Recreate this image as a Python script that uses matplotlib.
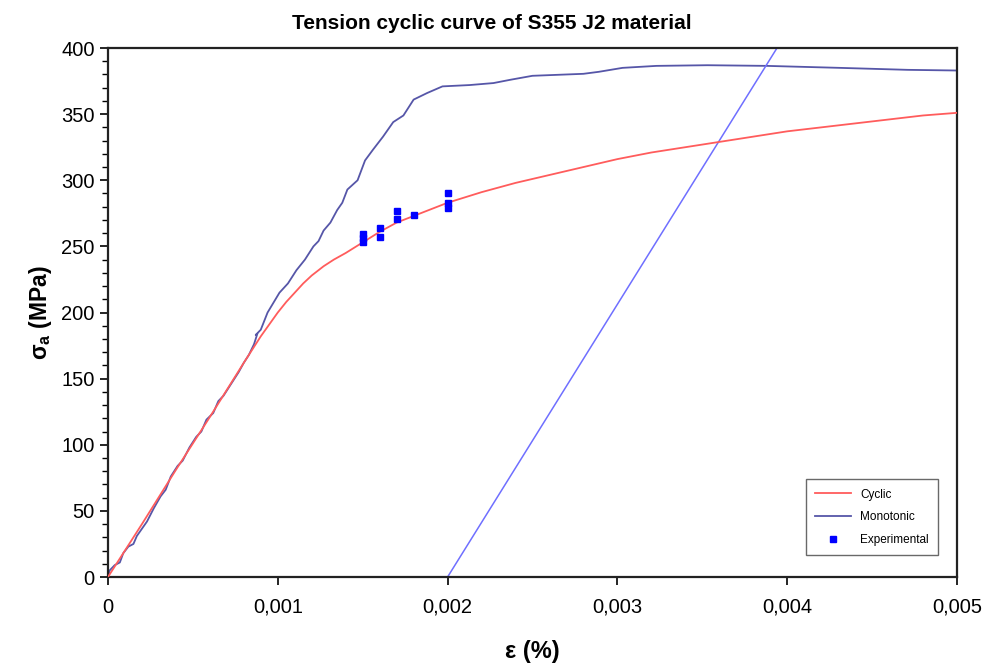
import numpy as np
import matplotlib.pyplot as plt
from matplotlib.ticker import MultipleLocator

plt.rcParams['font.family'] = ['Liberation Sans', 'DejaVu Sans']
plt.rcParams['mathtext.fontset'] = 'custom'
plt.rcParams['mathtext.rm'] = 'Liberation Sans'
plt.rcParams['mathtext.bf'] = 'Liberation Sans:bold'

# cyclic curve (strain, stress MPa)
cyc_strain = [0, 0.0002, 0.0004, 0.0006, 0.0008, 0.00085, 0.0009, 0.00095,
              0.001, 0.00105, 0.0011, 0.00115, 0.0012, 0.00127, 0.00133,
              0.0014, 0.0015, 0.0016, 0.0017, 0.0018, 0.0019, 0.002, 0.0021,
              0.0022, 0.0023, 0.0024, 0.0025, 0.0026, 0.0027, 0.0028, 0.0029,
              0.003, 0.0032, 0.0034, 0.0036, 0.0038, 0.004, 0.0042, 0.0044,
              0.0046, 0.0048, 0.005]
cyc_stress = [0, 40, 81, 121, 162, 172, 182, 191, 200, 208, 215, 222, 228,
              235, 240, 245, 253, 261, 268, 273, 278, 283, 287, 291, 294.5, 298,
              301, 304, 307, 310, 313, 316, 321, 325, 329, 333, 337, 340, 343,
              346, 349, 351]

# monotonic curve
mono_strain = [0, 0.00001, 0.00004, 0.00007, 0.00009, 0.00012, 0.00015, 0.00017,
               0.00023, 0.00027, 0.00031, 0.00034, 0.00037, 0.00041, 0.00044,
               0.00048, 0.00052, 0.00055, 0.00058, 0.00062, 0.00065, 0.00068,
               0.00071, 0.00074, 0.00077, 0.0008, 0.00083, 0.00086, 0.00088,
               0.00087, 0.0009, 0.00094, 0.00101, 0.00106, 0.00111, 0.00116,
               0.00121, 0.00124, 0.00127, 0.00131, 0.00135, 0.00138, 0.00141,
               0.00147, 0.001514, 0.00156, 0.00162, 0.00168, 0.00174, 0.0018,
               0.00188, 0.00197, 0.00213, 0.00227, 0.00237, 0.0025, 0.0028,
               0.00289, 0.00303, 0.00323, 0.00353, 0.00388, 0.00431, 0.00471,
               0.005]
mono_stress = [0, 5, 9, 11, 18, 23, 25, 31, 42, 52, 61, 66, 76, 84, 88, 98,
               106, 110, 119, 124, 133, 137, 143, 149, 155, 162, 168, 176, 184,
               183, 187, 200, 215, 222, 232, 240, 250, 254, 262, 268, 277.5,
               283, 293, 300, 315, 323, 333, 344, 349, 361, 366, 371, 372,
               373.5, 376, 379, 380.5, 382, 385, 386.5, 387, 386.5, 385, 383.5,
               383]

# 0.2 % offset line
offset_strain = [0.002, 0.00394]
offset_stress = [0, 400]

# experimental points
exp_strain = [0.0015, 0.0015, 0.0015, 0.0016, 0.0016, 0.0017, 0.0017, 0.0018,
              0.002, 0.002, 0.002]
exp_stress = [253, 256, 259, 264, 257, 277, 271, 274, 290, 283, 279]

xtick_vals = [0, 0.001, 0.002, 0.003, 0.004, 0.005]
xtick_labels = ['0', '0,001', '0,002', '0,003', '0,004', '0,005']

fig = plt.figure(figsize=(9.95, 6.67), dpi=100)
ax = fig.add_axes([0.1085, 0.1349, 0.8533, 0.7931])

ax.plot(cyc_strain, cyc_stress, color='#ff5c5c', lw=1.3, label='Cyclic', zorder=3)
ax.plot(mono_strain, mono_stress, color='#5656a8', lw=1.3, label='Monotonic', zorder=2)
ax.plot(offset_strain, offset_stress, color='#6f6fff', lw=1.1, zorder=2)
ax.plot(exp_strain, exp_stress, 's', color='#0000ff', ms=4.5, ls='none',
        label='Experimental', zorder=4)

ax.set_xlim(0, 0.005)
ax.set_ylim(0, 400)
ax.set_xticks(xtick_vals)
ax.set_xticklabels(xtick_labels)
ax.yaxis.set_major_locator(MultipleLocator(50))
ax.yaxis.set_minor_locator(MultipleLocator(10))
ax.tick_params(axis='both', which='major', labelsize=14.5, length=6, width=1.2, direction='out')
ax.tick_params(axis='y', which='minor', length=4, width=1)
ax.tick_params(axis='x', pad=9)

for s in ax.spines.values():
    s.set_linewidth(1.6)
    s.set_color('#222222')

ax.set_xlabel('ε (%)', fontsize=17, fontweight='bold', labelpad=17)
ax.set_ylabel(r'$\mathbf{\sigma_a}$ (MPa)', fontsize=16.5, fontweight='bold', labelpad=5)
fig.text(0.494, 0.965, 'Tension cyclic curve of S355 J2 material',
         ha='center', va='center', fontsize=15, fontweight='bold')

leg = ax.legend(loc='lower right', bbox_to_anchor=(0.985, 0.03), fontsize=8.5,
                frameon=True, fancybox=False, edgecolor='#444444',
                handlelength=3, borderpad=0.8, labelspacing=0.9)
leg.get_frame().set_linewidth(1.0)

fig.savefig('out.png', dpi=100)
